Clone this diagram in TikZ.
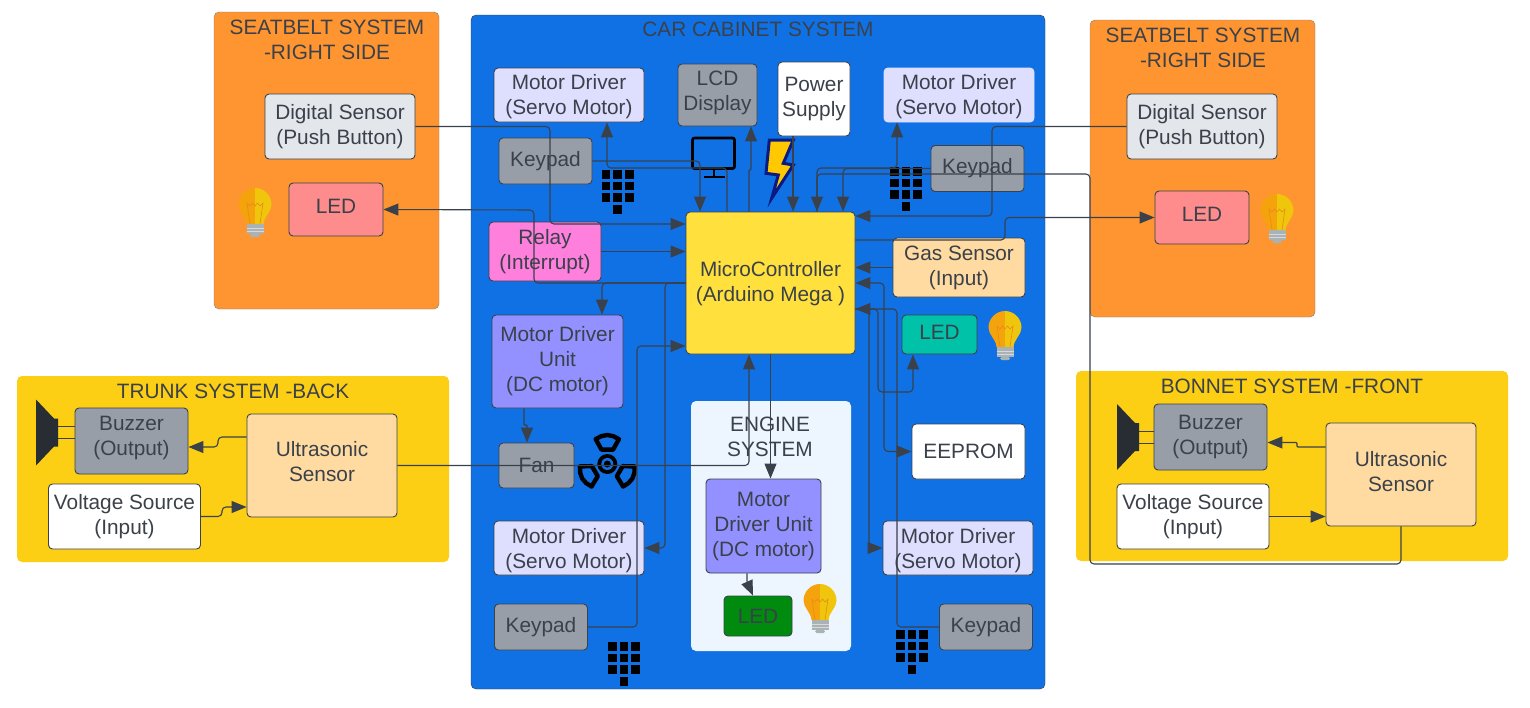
\documentclass[tikz,border=0pt]{standalone}
\usepackage{fontspec}
\usepackage{xcolor}
\setmainfont{Liberation Sans}
\usetikzlibrary{positioning, arrows.meta, backgrounds}

\definecolor{inkgrey}{HTML}{3A414A}
\definecolor{cabinblue}{HTML}{1071E5}
\definecolor{seatorange}{HTML}{FF9530}
\definecolor{bootyellow}{HTML}{FCCE14}
\definecolor{enginepale}{HTML}{EDF5FF}
\definecolor{servolilac}{HTML}{DEDEFF}
\definecolor{keygrey}{HTML}{979EA8}
\definecolor{sensorgrey}{HTML}{E3E6EB}
\definecolor{relaypink}{HTML}{FF7FDD}
\definecolor{mcuyellow}{HTML}{FFE03D}
\definecolor{peach}{HTML}{FFDBA1}
\definecolor{driverviolet}{HTML}{9391FF}
\definecolor{ledred}{HTML}{FF8C8C}
\definecolor{ledteal}{HTML}{00C2A8}
\definecolor{ledgreen}{HTML}{008A0E}
\definecolor{bulbleft}{HTML}{F5A30C}
\definecolor{bulbright}{HTML}{F0C60C}
\definecolor{bulbwire}{HTML}{E88A1A}
\definecolor{bulbbase}{HTML}{A9B2B5}
\definecolor{speakerdark}{HTML}{282C33}
\definecolor{boltyellow}{HTML}{FFC800}
\definecolor{boltnavy}{HTML}{0A1A80}

\tikzset{
  keypadicon/.pic={
    \foreach \row in {0,1,2}
      \foreach \col in {0,1,2}
        \fill[black] (\col*11.7,\row*11.7) rectangle ++(8.7,8.7);
    \fill[black] (11.7,35.1) rectangle ++(8.7,8.7);
  },
  bulbicon/.pic={
    \fill[bulbleft] (0,0) .. controls (-9,0) and (-16.5,7.5) .. (-16.5,16.5)
      .. controls (-16.5,24) and (-9,28) .. (-8.5,36) -- (0,36) -- cycle;
    \fill[bulbright] (0,0) .. controls (9,0) and (16.5,7.5) .. (16.5,16.5)
      .. controls (16.5,24) and (9,28) .. (8.5,36) -- (0,36) -- cycle;
    \draw[bulbwire, line width=.6pt] (-5,36) -- (-8,15) -- (-5,18) -- (-2.5,15) -- (0,18)
      -- (2.5,15) -- (5,18) -- (8,15) -- (5,36);
    \fill[bulbbase] (-8.5,36) rectangle (8.5,46);
    \draw[white!70!gray, line width=.7pt] (-8.5,40) -- (8.5,40) (-8.5,43.5) -- (8.5,43.5);
    \fill[bulbbase, rounded corners=1.5pt] (-5,46) rectangle (5,49);
  },
  speakericon/.pic={
    \fill[speakerdark] (0,-33) -- (18,-14) -- (22,-14) -- (22,14) -- (18,14) -- (0,33) -- cycle;
  },
  faniconpart/.pic={
    \draw[black, line width=4.4pt, line join=round] (#1-25:27.5) -- (#1-12:28.5) -- (#1:29)
      -- (#1+12:28.5) -- (#1+25:27.5) -- (#1+22:15.5) -- (#1-22:15.5) -- cycle;
  },
}

\begin{document}
\begin{tikzpicture}[
        x=1pt, y=-1pt,
        on grid,
        >={Stealth[length=15pt, width=12pt, inset=0pt]},
        every node/.style={text=inkgrey, font=\fontsize{20.8}{25}\selectfont, align=center, inner sep=0pt},
        box/.style={draw=inkgrey, line width=.9pt, rounded corners=4pt},
        panel/.style={rounded corners=5pt, inner sep=0pt},
        servo/.style={box, fill=servolilac, minimum width=150pt, minimum height=54pt},
        keypad/.style={box, fill=keygrey, minimum width=93pt, minimum height=46pt},
        sensor/.style={box, fill=sensorgrey, minimum width=150pt, minimum height=65pt},
        ultra/.style={box, fill=peach, minimum width=150pt, minimum height=103pt},
        buzzer/.style={box, fill=keygrey, minimum width=113pt, minimum height=66pt},
        source/.style={box, fill=white, minimum width=152pt, minimum height=65pt},
        driver/.style={box, fill=driverviolet},
        conn/.style={draw=inkgrey, line width=1.1pt, rounded corners=4pt},
        jog/.style={conn, rounded corners=1pt},
      ]

      \useasboundingbox (0,0) rectangle (1530,707);

      \node[box, fill=mcuyellow, minimum width=169pt, minimum height=142pt, text height=42pt] (mcu) at (770.5,283)
        {MicroController\\(Arduino Mega )};

      \node[servo, text height=44pt, above left=188pt and 201.5pt of mcu] (servoTL) {Motor Driver\\(Servo Motor)};
      \node[box, fill=keygrey, minimum width=79pt, minimum height=62pt, text depth=8.4pt, above left=188pt and 53pt of mcu] (lcd) {LCD\\Display};
      \node[box, fill=white, minimum width=72pt, minimum height=74pt, above right=184pt and 43.5pt of mcu] (power) {Power\\Supply};
      \node[servo, draw=servolilac, text height=44pt, above right=188pt and 188.5pt of mcu] (servoTR) {Motor Driver\\(Servo Motor)};
      \node[keypad, below left=66pt and 23.5pt of servoTL] (keypadTL) {Keypad};
      \node[keypad, below right=73.5pt and 18.5pt of servoTR] (keypadR) {Keypad};
      \node[box, fill=relaypink, minimum width=112pt, minimum height=59pt, above left=31.5pt and 225.5pt of mcu] (relay) {Relay\\(Interrupt)};
      \node[box, fill=peach, minimum width=132pt, minimum height=59pt, above right=15.5pt and 188.5pt of mcu] (gas) {Gas Sensor\\(Input)};
      \node[box, fill=ledteal, minimum width=75pt, minimum height=39pt, text depth=4pt, below left=67pt and 19.5pt of gas] (ledT) {LED};
      \node[driver, minimum width=131pt, minimum height=93pt, below left=78.5pt and 213pt of mcu] (mdunit) {Motor Driver\\Unit\\(DC motor)};
      \node[box, fill=keygrey, minimum width=75pt, minimum height=45pt, below left=104pt and 21pt of mdunit] (fan) {Fan};
      \node[servo, text height=46pt, below right=82.5pt and 32.5pt of fan] (servoBL) {Motor Driver\\(Servo Motor)};
      \node[keypad, below left=79pt and 28pt of servoBL] (keypadBL) {Keypad};
      \node[driver, minimum width=115pt, minimum height=94pt, below left=243pt and 7pt of mcu] (mdengine) {Motor\\Driver Unit\\(DC motor)};
      \node[box, fill=ledgreen, minimum width=68pt, minimum height=40pt, below left=90pt and 5.5pt of mdengine] (ledG) {LED};
      \node[box, fill=white, minimum width=113pt, minimum height=55pt, below right=168.5pt and 198pt of mcu] (eeprom) {EEPROM};
      \node[servo, text height=46pt, below left=96.5pt and 10.5pt of eeprom] (servoBR) {Motor Driver\\(Servo Motor)};
      \node[keypad, below right=79pt and 28pt of servoBR] (keypadBR) {Keypad};

      \node[sensor] (sensorL) at (340,126.5) {Digital Sensor\\(Push Button)};
      \node[box, fill=ledred, minimum width=94pt, minimum height=53pt, text depth=6pt, below left=83pt and 4pt of sensorL] (ledL) {LED};
      \node[sensor] (sensorR) at (1202,126.5) {Digital Sensor\\(Push Button)};
      \node[box, fill=ledred, minimum width=94pt, minimum height=53pt, text depth=6pt, below=91pt of sensorR] (ledR) {LED};

      \node[ultra, text depth=8pt] (ultraL) at (322,465.5) {Ultrasonic\\Sensor};
      \node[buzzer, text depth=10.4pt, above left=24.5pt and 190.5pt of ultraL] (buzzL) {Buzzer\\(Output)};
      \node[source, below left=51pt and 197.5pt of ultraL] (voltL) {Voltage Source\\(Input)};
      \node[ultra, text depth=6pt] (ultraR) at (1401,474.5) {Ultrasonic\\Sensor};
      \node[buzzer, above left=37.5pt and 190.5pt of ultraR] (buzzR) {Buzzer\\(Output)};
      \node[source, below left=42pt and 208pt of ultraR] (voltR) {Voltage Source\\(Input)};

      \begin{pgfonlayer}{background}
        \fill[white] (0,0) rectangle (1530,707);
        \node[panel, draw=gray, fill=seatorange, minimum width=225pt, minimum height=297pt] (seatL) at (326.5,160.5) {};
        \node[panel, draw=gray, fill=seatorange, minimum width=225pt, minimum height=297pt] (seatR) at (1202.5,168.5) {};
        \node[panel, draw=inkgrey, fill=cabinblue, minimum width=574pt, minimum height=674pt] (cabin) at (758,352) {};
        \node[panel, fill=bootyellow, minimum width=432pt, minimum height=186pt] (trunk) at (233,469) {};
        \node[panel, fill=bootyellow, minimum width=432pt, minimum height=190pt] (bonnet) at (1292,466) {};
        \node[panel, fill=enginepale, minimum width=160pt, minimum height=250pt] (engine) at (771,526) {};
      \end{pgfonlayer}

      \node (seatLtitle) at (327,39.5) {SEATBELT SYSTEM\\-RIGHT SIDE};
      \node (seatRtitle) at (1203,47.5) {SEATBELT SYSTEM\\-RIGHT SIDE};
      \node (cabintitle) at (758,29) {CAR CABINET SYSTEM};
      \node (trunktitle) at (233,391) {TRUNK SYSTEM -BACK};
      \node (bonnettitle) at (1292,386) {BONNET SYSTEM -FRONT};
      \node (enginetitle) at (770,436.5) {ENGINE\\SYSTEM};

      \pic (padTL) at (601.6,170) {keypadicon};
      \pic (padR) at (890,167) {keypadicon};
      \pic (padBL) at (608,642) {keypadicon};
      \pic (padBR) at (896,630) {keypadicon};

      \pic (bulbL) at (255,188) {bulbicon};
      \pic (bulbR) at (1277,194) {bulbicon};
      \pic (bulbT) at (1005,311) {bulbicon};
      \pic (bulbE) at (820,584) {bulbicon};

      \pic (spkL) at (36,432.5) {speakericon};
      \pic (spkR) at (1117,437) {speakericon};
      \coordinate (spkLend) at (58,432.5);
      \coordinate (spkRend) at (1139,437);

      \draw[black, line width=2.7pt, rounded corners=2pt] (692.5,138) rectangle (734.5,168.5);
      \draw[black, line width=2pt] (713.5,169) -- (713.5,177) (704,177) -- (725,177);

      \draw[fill=boltyellow, draw=boltnavy, line width=3pt, line join=miter]
        (769.3,140) -- (793.3,140) -- (783.3,163.3) -- (793.3,165) -- (771.7,198.3) -- (778.3,175) -- (766,173.3) -- cycle;

      \fill[black] (607.3,464) circle (10pt);
      \fill[cabinblue] (607.3,464) circle (6pt);
      \fill[black] (607.3,464) circle (3.5pt);
      \foreach \ang in {-90,30,150}
        \pic at (607.3,464) {faniconpart=\ang};

      \draw[conn, ->] (sensorL.east) -| (550,224) -- (mcu.west |- 0,224);
      \draw[conn, ->] (relay.east) -- (mcu.west |- relay.east);
      \draw[conn, ->] (mcu.west) -| (534,210) -- (ledL.east);
      \draw[conn, ->] (mcu.west) -| (602,0 |- mdunit.north);
      \draw[conn, ->] (mcu.west) -| (665,0 |- servoBL.east) -- (servoBL.east);
      \draw[conn, ->] (keypadBL.east) -| (637,346) -- (mcu.west |- 0,346);
      \draw[conn, ->] (ultraL.east) -| (749,0 |- mcu.south);
      \draw[conn, ->] (mcu.south) -- (mcu.south |- mdengine.north);
      \draw[jog, ->] (524,0 |- mdunit.south) -- (524,425) -- (527,425) -- (527,0 |- fan.north);
      \draw[jog, ->] (747,0 |- mdengine.south) -- (747,582) -- (753,0 |- ledG.north);

      \draw[conn, ->] (keypadTL.east) -| (700,0 |- mcu.north);
      \draw[conn, ->] (727,0 |- mcu.north) |- (607,168) -- (607,0 |- servoTL.south);
      \draw[jog, ->] (749,0 |- mcu.north) -- (749,170) -- (751,170) -- (751,0 |- lcd.south);
      \draw[conn, ->] (793,0 |- power.south) -- (793,0 |- mcu.north);
      \draw[conn, ->] (ultraR.south) |- (1090,564) -- (1090,174) -- (817,174) -- (817,0 |- mcu.north);
      \draw[conn, ->] (817,0 |- mcu.north) |- (897,168) -- (897,0 |- servoTR.south);
      \draw[conn, ->] (keypadR.west) -| (843,0 |- mcu.north);

      \draw[conn, ->] (sensorR.west) -| (992,216) -- (mcu.east |- 0,216);
      \draw[conn, ->] (mcu.east |- 0,240) -| (1005,0 |- ledR.west) -- (ledR.west);
      \draw[conn, ->] (gas.west) -- (mcu.east |- gas.west);
      \draw[conn, <->] (mcu.east) -| (884,0 |- eeprom.west) -- (eeprom.west);
      \draw[conn, ->] (keypadBR.west) -| (897,309) -- (mcu.east |- 0,309);
      \draw[conn, ->] (mcu.east |- 0,309) -| (869,0 |- servoBR.west) -- (servoBR.west);
      \draw[conn, ->] (mcu.east |- 0,309) -| (878,392) -| (913,0 |- ledT.south);

      \draw[conn, ->] (ultraL.west |- 0,437) -- (218,437) -- (218,447) -- (buzzL.east |- 0,447);
      \draw[conn, ->] (voltL.east) -- (222,516.5) -- (222,507) -- (ultraL.west |- 0,507);
      \draw[jog, ->] (ultraR.west |- 0,447) -- (1297,447) -- (1297,442.5) -- (buzzR.east |- 0,442.5);
      \draw[conn, ->] (voltR.east) -- (ultraR.west |- voltR.east);

      \draw[conn, line width=.8pt] (spkLend |- 0,426) -- (buzzL.west |- 0,426);
      \draw[conn, line width=.8pt] (spkLend |- 0,438) -- (buzzL.west |- 0,438);
      \draw[conn, line width=.8pt] (spkRend |- 0,431) -- (buzzR.west |- 0,431);
      \draw[conn, line width=.8pt] (spkRend |- 0,443) -- (buzzR.west |- 0,443);

    \end{tikzpicture}
\end{document}
